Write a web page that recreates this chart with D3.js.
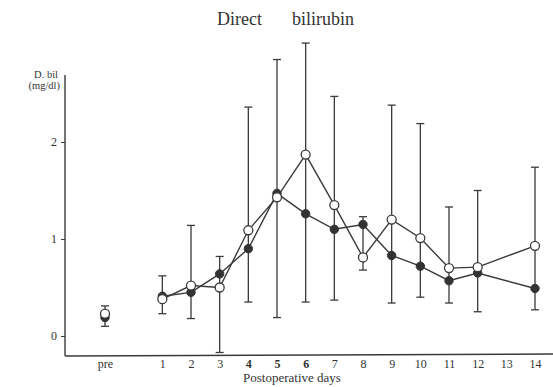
<!DOCTYPE html>
<html lang="en">
<head>
<meta charset="UTF-8">
<title>Direct bilirubin</title>
<script src="https://d3js.org/d3.v7.min.js"></script>
<style>
  body { margin: 0; background: #fff; }
  svg { display: block; }
  text { font-family: "Liberation Serif", "DejaVu Serif", serif; fill: #333; }
</style>
</head>
<body>
<div id="chart"></div>
<script>
// days (-1 = pre-operative)
const days = [-1, 1, 2, 3, 4, 5, 6, 7, 8, 9, 10, 11, 12, 14];
const openVals   = [0.23, 0.38, 0.52, 0.50, 1.09, 1.43, 1.87, 1.35, 0.81, 1.20, 1.01, 0.70, 0.71, 0.93];
const filledVals = [0.19, 0.41, 0.45, 0.64, 0.90, 1.47, 1.26, 1.10, 1.15, 0.83, 0.72, 0.57, 0.65, 0.49];
const errHigh = [0.31, 0.62, 1.14, 0.82, 2.36, 2.85, 3.02, 2.47, 1.23, 2.38, 2.19, 1.33, 1.50, 1.74];
const errLow  = [0.10, 0.23, 0.18, -0.17, 0.35, 0.19, 0.35, 0.37, 0.68, 0.34, 0.40, 0.34, 0.25, 0.27];
const xTicks = [-1, 1, 2, 3, 4, 5, 6, 7, 8, 9, 10, 11, 12, 13, 14];
const yTicks = [0, 1, 2];

const W = 553, H = 387;
const svg = d3.select('#chart').append('svg').attr('width', W).attr('height', H);

const x = d3.scaleLinear().domain([-1, 14]).range([105, 535]);
const y = d3.scaleLinear().domain([0, 2]).range([336, 142]);
const ink = '#3a3a3a';

// title
svg.append('text').attr('x', 217).attr('y', 25).attr('font-size', 18).text('Direct');
svg.append('text').attr('x', 292).attr('y', 25).attr('font-size', 18).text('bilirubin');

// y label
svg.append('text').attr('x', 58).attr('y', 78).attr('text-anchor', 'end').attr('font-size', 10.5).text('D. bil');
svg.append('text').attr('x', 60).attr('y', 89).attr('text-anchor', 'end').attr('font-size', 10.5).text('(mg/dl)');

// axes lines
svg.append('line').attr('x1', 65).attr('x2', 65).attr('y1', 75).attr('y2', 356)
  .attr('stroke', ink).attr('stroke-width', 1.4);
svg.append('line').attr('x1', 65).attr('x2', 553).attr('y1', 356).attr('y2', 354)
  .attr('stroke', ink).attr('stroke-width', 1.4);

const yAxis = svg.append('g').attr('transform', 'translate(65,0)')
  .call(d3.axisLeft(y).tickValues(yTicks).tickSize(4).tickPadding(4).tickFormat(d3.format('d')));
yAxis.select('.domain').remove();
yAxis.selectAll('line').attr('stroke', ink);
yAxis.selectAll('text').attr('font-size', 12).attr('font-family', '"Liberation Serif", serif').attr('fill', '#444');

const xAxis = svg.append('g').attr('transform', 'translate(0,356)')
  .call(d3.axisBottom(x).tickValues(xTicks).tickSize(0).tickPadding(3)
    .tickFormat(d => d === -1 ? 'pre' : d));
xAxis.select('.domain').remove();
xAxis.selectAll('text').attr('font-size', 12).attr('font-family', '"Liberation Serif", serif').attr('fill', '#444')
  .filter(d => d >= 4 && d <= 6)
  .attr('font-family', '"DejaVu Sans", sans-serif').attr('font-weight', 'bold').attr('fill', '#111');

svg.append('text').attr('x', 292).attr('y', 382).attr('text-anchor', 'middle').attr('font-size', 13).text('Postoperative days');

// error bars
const err = svg.append('g').attr('stroke', ink).attr('stroke-width', 1.3);
days.forEach((d, i) => {
  err.append('line').attr('x1', x(d)).attr('x2', x(d)).attr('y1', y(errHigh[i])).attr('y2', y(errLow[i]));
  [errHigh[i], errLow[i]].forEach(v => {
    err.append('line').attr('x1', x(d) - 4).attr('x2', x(d) + 4).attr('y1', y(v)).attr('y2', y(v));
  });
});

// lines (pre not connected)
const line = d3.line().x(d => x(d[0])).y(d => y(d[1]));
const filledPts = days.map((d, i) => [d, filledVals[i]]).slice(1);
const openPts = days.map((d, i) => [d, openVals[i]]).slice(1);
svg.append('path').attr('d', line(filledPts)).attr('fill', 'none').attr('stroke', ink).attr('stroke-width', 1.4);
svg.append('path').attr('d', line(openPts)).attr('fill', 'none').attr('stroke', ink).attr('stroke-width', 1.4);

// markers
svg.selectAll('.filled').data(days).enter().append('circle')
  .attr('class', 'filled')
  .attr('cx', d => x(d)).attr('cy', (d, i) => y(filledVals[i])).attr('r', 4.2)
  .attr('fill', '#333').attr('stroke', '#333');
svg.selectAll('.open').data(days).enter().append('circle')
  .attr('class', 'open')
  .attr('cx', d => x(d)).attr('cy', (d, i) => y(openVals[i])).attr('r', 4.5)
  .attr('fill', '#fff').attr('stroke', ink).attr('stroke-width', 1.3);
</script>
</body>
</html>
